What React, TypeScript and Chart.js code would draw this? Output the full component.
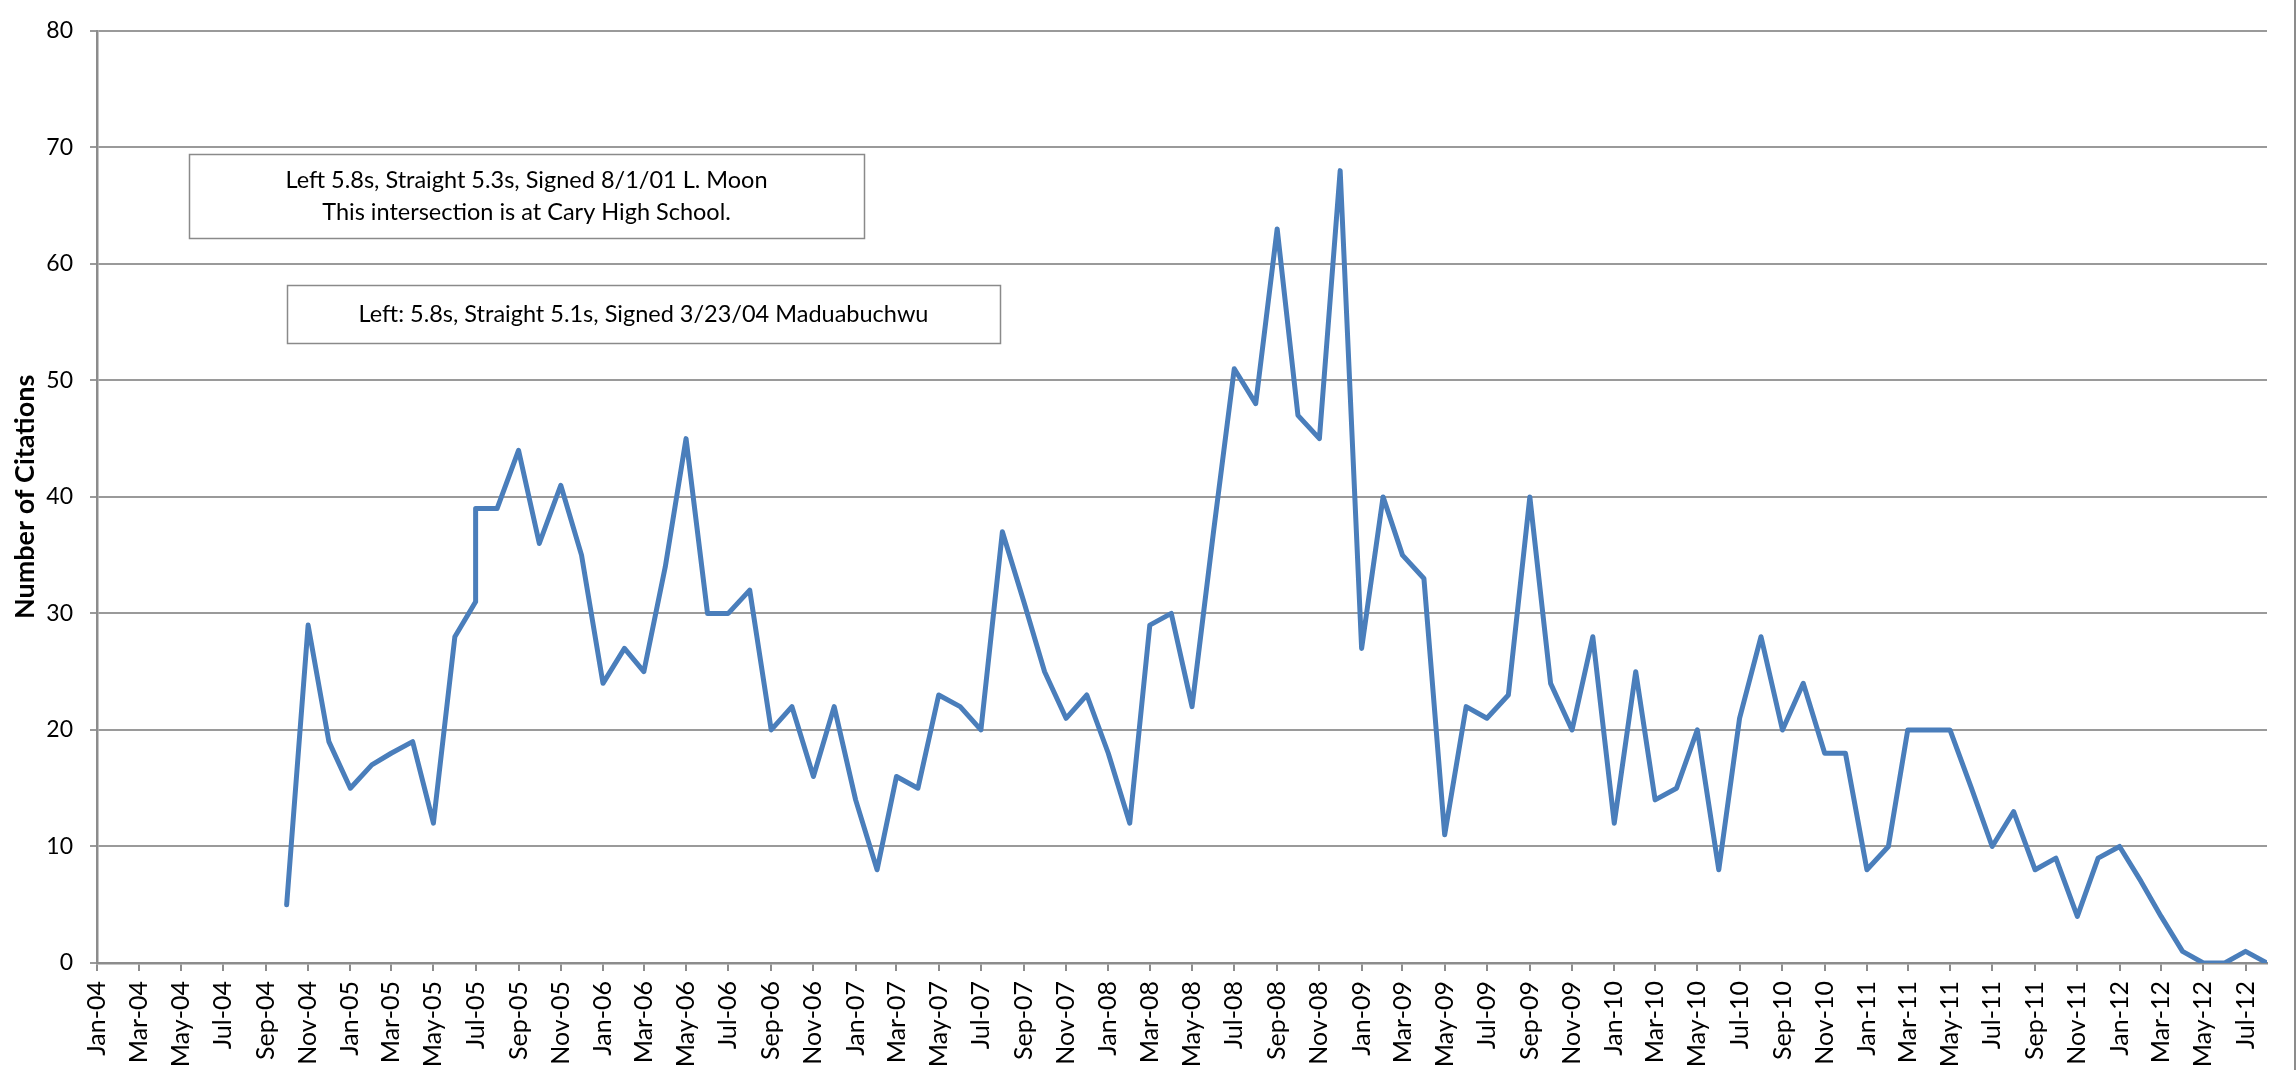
import React, { useEffect, useRef } from "react";
import { Chart, registerables } from "chart.js";

Chart.register(...registerables);

// ---- data ----
const dates = [
  "2004-10-01", "2004-11-01", "2004-12-01",
  "2005-01-01", "2005-02-01", "2005-03-01", "2005-04-01", "2005-05-01", "2005-06-01",
  "2005-07-01", "2005-07-01", "2005-08-01", "2005-09-01", "2005-10-01", "2005-11-01", "2005-12-01",
  "2006-01-01", "2006-02-01", "2006-03-01", "2006-04-01", "2006-05-01", "2006-06-01",
  "2006-07-01", "2006-08-01", "2006-09-01", "2006-10-01", "2006-11-01", "2006-12-01",
  "2007-01-01", "2007-02-01", "2007-03-01", "2007-04-01", "2007-05-01", "2007-06-01",
  "2007-07-01", "2007-08-01", "2007-09-01", "2007-10-01", "2007-11-01", "2007-12-01",
  "2008-01-01", "2008-02-01", "2008-03-01", "2008-04-01", "2008-05-01", "2008-06-01",
  "2008-07-01", "2008-08-01", "2008-09-01", "2008-10-01", "2008-11-01", "2008-12-01",
  "2009-01-01", "2009-02-01", "2009-03-01", "2009-04-01", "2009-05-01", "2009-06-01",
  "2009-07-01", "2009-08-01", "2009-09-01", "2009-10-01", "2009-11-01", "2009-12-01",
  "2010-01-01", "2010-02-01", "2010-03-01", "2010-04-01", "2010-05-01", "2010-06-01",
  "2010-07-01", "2010-08-01", "2010-09-01", "2010-10-01", "2010-11-01", "2010-12-01",
  "2011-01-01", "2011-02-01", "2011-03-01", "2011-04-01", "2011-05-01", "2011-06-01",
  "2011-07-01", "2011-08-01", "2011-09-01", "2011-10-01", "2011-11-01", "2011-12-01",
  "2012-01-01", "2012-02-01", "2012-03-01", "2012-04-01", "2012-05-01", "2012-06-01",
  "2012-07-01", "2012-08-01",
];

const citations = [
  5, 29, 19,
  15, 17, 18, 19, 12, 28,
  31, 39, 39, 44, 36, 41, 35,
  24, 27, 25, 34, 45, 30,
  30, 32, 20, 22, 16, 22,
  14, 8, 16, 15, 23, 22,
  20, 37, 31, 25, 21, 23,
  18, 12, 29, 30, 22, 37,
  51, 48, 63, 47, 45, 68,
  27, 40, 35, 33, 11, 22,
  21, 23, 40, 24, 20, 28,
  12, 25, 14, 15, 20, 8,
  21, 28, 20, 24, 18, 18,
  8, 10, 20, 20, 20, 15,
  10, 13, 8, 9, 4, 9,
  10, 7, 4, 1, 0, 0,
  1, 0,
];

const tickLabels = [
  "Jan-04", "Mar-04", "May-04", "Jul-04", "Sep-04", "Nov-04",
  "Jan-05", "Mar-05", "May-05", "Jul-05", "Sep-05", "Nov-05",
  "Jan-06", "Mar-06", "May-06", "Jul-06", "Sep-06", "Nov-06",
  "Jan-07", "Mar-07", "May-07", "Jul-07", "Sep-07", "Nov-07",
  "Jan-08", "Mar-08", "May-08", "Jul-08", "Sep-08", "Nov-08",
  "Jan-09", "Mar-09", "May-09", "Jul-09", "Sep-09", "Nov-09",
  "Jan-10", "Mar-10", "May-10", "Jul-10", "Sep-10", "Nov-10",
  "Jan-11", "Mar-11", "May-11", "Jul-11", "Sep-11", "Nov-11",
  "Jan-12", "Mar-12", "May-12", "Jul-12",
];

const yAxisTitle = "Number of Citations";
const note1Lines = [
  "Left 5.8s, Straight 5.3s, Signed 8/1/01 L. Moon",
  "This intersection is at Cary High School.",
];
const note2Lines = ["Left: 5.8s, Straight 5.1s, Signed 3/23/04 Maduabuchwu"];

// ---- helpers ----
const MONTHS = ["Jan", "Feb", "Mar", "Apr", "May", "Jun", "Jul", "Aug", "Sep", "Oct", "Nov", "Dec"];
const EPOCH = Date.UTC(2004, 0, 1);
const DAY = 86400000;
const dayOfIso = (iso: string) => {
  const [y, m, d] = iso.split("-").map(Number);
  return (Date.UTC(y, m - 1, d) - EPOCH) / DAY;
};
const dayOfLabel = (lab: string) => {
  const [mon, yy] = lab.split("-");
  return (Date.UTC(2000 + Number(yy), MONTHS.indexOf(mon), 1) - EPOCH) / DAY;
};

const FONT = "Lato";

const notes = [
  { lines: note1Lines, box: { x: 189, y: 154, w: 675, h: 84 }, lineHeight: 32 },
  { lines: note2Lines, box: { x: 287, y: 285, w: 713, h: 58 }, lineHeight: 32 },
];

const notesPlugin = {
  id: "notes",
  afterDraw(chart: any) {
    const ctx = chart.ctx as CanvasRenderingContext2D;
    for (const n of notes) {
      const { x, y, w, h } = n.box;
      ctx.save();
      ctx.fillStyle = "#ffffff";
      ctx.fillRect(x, y, w, h);
      ctx.strokeStyle = "#8a8a8a";
      ctx.lineWidth = 1.5;
      ctx.strokeRect(x + 0.5, y + 0.5, w, h);
      ctx.fillStyle = "#000000";
      ctx.font = `23.5px ${FONT}`;
      ctx.textAlign = "center";
      ctx.textBaseline = "middle";
      const cx = x + w / 2;
      const cy = y + h / 2;
      n.lines.forEach((t, i) => {
        ctx.fillText(t, cx, cy + (i - (n.lines.length - 1) / 2) * n.lineHeight);
      });
      ctx.restore();
    }
  },
};

export default function App() {
  const canvasRef = useRef<HTMLCanvasElement | null>(null);

  useEffect(() => {
    if (!canvasRef.current) return;
    const points = dates.map((d, i) => ({ x: dayOfIso(d), y: citations[i] }));
    const tickDays = tickLabels.map(dayOfLabel);
    const xMin = 0;
    const xMax = dayOfIso(dates[dates.length - 1]);

    const chart = new Chart(canvasRef.current, {
      type: "line",
      data: {
        datasets: [
          {
            data: points,
            borderColor: "#4a7ebb",
            borderWidth: 5,
            pointRadius: 0,
            tension: 0,
            borderJoinStyle: "round",
            borderCapStyle: "round",
            fill: false,
          },
        ],
      },
      options: {
        animation: false,
        responsive: true,
        maintainAspectRatio: false,
        layout: { padding: { left: 0, top: 17, right: 27, bottom: 0 } },
        plugins: {
          legend: { display: false },
          tooltip: { enabled: false },
        },
        scales: {
          x: {
            type: "linear",
            min: xMin,
            max: xMax,
            afterBuildTicks: (s: any) => {
              s.ticks = tickDays.map((v) => ({ value: v }));
            },
            afterFit: (s: any) => {
              s.height = 107;
            },
            ticks: {
              autoSkip: false,
              maxRotation: 90,
              minRotation: 90,
              padding: 10,
              color: "#000",
              font: { family: FONT, size: 25 },
              callback: (_v: any, i: number) => tickLabels[i],
            },
            grid: {
              drawOnChartArea: false,
              drawTicks: true,
              tickLength: 8,
              color: "#8c8c8c",
              lineWidth: 2,
            },
            border: { display: true, color: "#8c8c8c", width: 2.5 },
          },
          y: {
            min: 0,
            max: 80,
            afterFit: (s: any) => {
              s.width = 97;
            },
            ticks: {
              stepSize: 10,
              padding: 17,
              color: "#000",
              font: { family: FONT, size: 23 },
            },
            grid: {
              color: "#9a9a9a",
              lineWidth: 2,
              drawTicks: true,
              tickLength: 7,
            },
            border: { display: true, color: "#8c8c8c", width: 2.5 },
            title: {
              display: true,
              text: yAxisTitle,
              color: "#000",
              font: { family: FONT, size: 27, weight: "bold" },
              padding: { top: 9, bottom: 0 },
            },
          },
        },
      },
      plugins: [notesPlugin],
    } as any);

    return () => chart.destroy();
  }, []);

  return (
    <div
      style={{
        position: "fixed",
        left: 0,
        top: 0,
        width: 2294,
        height: 1070,
        borderRight: "2px solid #8c8c8c",
        background: "#ffffff",
      }}
    >
      <canvas ref={canvasRef} />
    </div>
  );
}
